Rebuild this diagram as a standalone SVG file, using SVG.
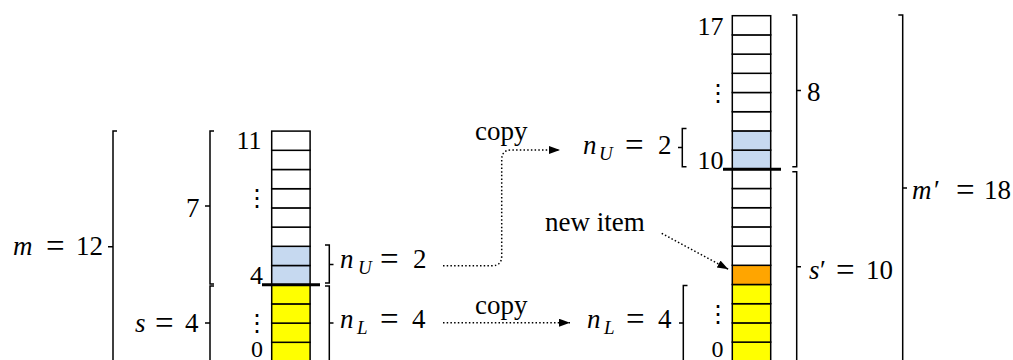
<svg xmlns="http://www.w3.org/2000/svg" width="1013" height="360" viewBox="0 0 1013 360">
<defs>
<style>
.cell{stroke:#000;stroke-width:1.5}
.w{fill:#fff}.b{fill:#c6d9f0}.y{fill:#ffff00}.o{fill:#ffa500}
.br{fill:none;stroke:#000;stroke-width:1.5}
.thick{stroke:#000;stroke-width:3}
.lab{font-family:'Liberation Serif','Times New Roman',Times,'DejaVu Serif',serif;font-size:27px;fill:#000}
.idx{font-family:'Liberation Serif','Times New Roman',Times,'DejaVu Serif',serif;font-size:26px;fill:#000;text-anchor:end}
.z{font-size:24px}
.it{font-style:italic}
.sub{font-style:italic;font-size:19px}
.eq{font-size:33px}
.dots{font-family:'DejaVu Serif',serif;font-size:24px;fill:#000;text-anchor:middle}
.con{fill:none;stroke:#000;stroke-width:1.5;stroke-dasharray:1.5 2.2}
</style>
<marker id="arr" markerUnits="userSpaceOnUse" markerWidth="12" markerHeight="10" refX="11" refY="4" orient="auto">
<path d="M0,0 L11,4 L0,8 Z" fill="#000"/>
</marker>
</defs>
<rect width="1013" height="360" fill="#fff"/>

<g id="left-array">
<rect class="cell y" x="271.7" y="342.3" width="38.4" height="19.2"/>
<rect class="cell y" x="271.7" y="323.1" width="38.4" height="19.2"/>
<rect class="cell y" x="271.7" y="303.9" width="38.4" height="19.2"/>
<rect class="cell y" x="271.7" y="284.7" width="38.4" height="19.2"/>
<rect class="cell b" x="271.7" y="265.5" width="38.4" height="19.2"/>
<rect class="cell b" x="271.7" y="246.3" width="38.4" height="19.2"/>
<rect class="cell w" x="271.7" y="227.1" width="38.4" height="19.2"/>
<rect class="cell w" x="271.7" y="207.9" width="38.4" height="19.2"/>
<rect class="cell w" x="271.7" y="188.7" width="38.4" height="19.2"/>
<rect class="cell w" x="271.7" y="169.5" width="38.4" height="19.2"/>
<rect class="cell w" x="271.7" y="150.3" width="38.4" height="19.2"/>
<rect class="cell w" x="271.7" y="131.1" width="38.4" height="19.2"/>
<line class="thick" x1="262" y1="284.7" x2="320" y2="284.7"/>
<text class="idx" x="261.5" y="149">11</text>
<text class="idx" x="263" y="284">4</text>
<text class="idx z" x="263" y="356.5">0</text>
<text class="dots" x="256.7" y="206">⋮</text>
<text class="dots" x="256.7" y="331">⋮</text>
</g>

<g id="right-array">
<rect class="cell y" x="732.3" y="342.1" width="38.4" height="19.2"/>
<rect class="cell y" x="732.3" y="322.9" width="38.4" height="19.2"/>
<rect class="cell y" x="732.3" y="303.7" width="38.4" height="19.2"/>
<rect class="cell y" x="732.3" y="284.5" width="38.4" height="19.2"/>
<rect class="cell o" x="732.3" y="265.3" width="38.4" height="19.2"/>
<rect class="cell w" x="732.3" y="246.1" width="38.4" height="19.2"/>
<rect class="cell w" x="732.3" y="226.9" width="38.4" height="19.2"/>
<rect class="cell w" x="732.3" y="207.7" width="38.4" height="19.2"/>
<rect class="cell w" x="732.3" y="188.5" width="38.4" height="19.2"/>
<rect class="cell w" x="732.3" y="169.3" width="38.4" height="19.2"/>
<rect class="cell b" x="732.3" y="150.1" width="38.4" height="19.2"/>
<rect class="cell b" x="732.3" y="130.9" width="38.4" height="19.2"/>
<rect class="cell w" x="732.3" y="111.7" width="38.4" height="19.2"/>
<rect class="cell w" x="732.3" y="92.5" width="38.4" height="19.2"/>
<rect class="cell w" x="732.3" y="73.3" width="38.4" height="19.2"/>
<rect class="cell w" x="732.3" y="54.1" width="38.4" height="19.2"/>
<rect class="cell w" x="732.3" y="34.9" width="38.4" height="19.2"/>
<rect class="cell w" x="732.3" y="15.7" width="38.4" height="19.2"/>
<line class="thick" x1="723" y1="169.3" x2="781" y2="169.3"/>
<text class="idx" x="723.5" y="35">17</text>
<text class="idx" x="723.5" y="169">10</text>
<text class="idx z" x="723.5" y="356.5">0</text>
<text class="dots" x="718.3" y="101">⋮</text>
<text class="dots" x="718.3" y="322">⋮</text>
</g>

<g id="bracket-m">
<path class="br" d="M117,131 H113 V365 M113,246.7 H108"/>
<text class="lab"><tspan class="it" x="13" y="255">m</tspan><tspan class="eq" x="46" y="257">=</tspan><tspan x="76" y="255">12</tspan></text>
</g>
<g id="bracket-7">
<path class="br" d="M214,131 H210 V284 H214 M210,206 H205"/>
<text class="lab" x="186" y="217">7</text>
</g>
<g id="bracket-s">
<path class="br" d="M214,286 H210 V365 M210,323 H205"/>
<text class="lab"><tspan class="it" x="135" y="332">s</tspan><tspan class="eq" x="155" y="334">=</tspan><tspan x="185" y="332">4</tspan></text>
</g>
<g id="bracket-nU-left">
<path class="br" d="M325,245 H329.3 V283 H325 M329.3,264.5 H333.5"/>
<text class="lab"><tspan class="it" x="340" y="268">n</tspan><tspan class="sub" x="358" y="274">U</tspan><tspan class="eq" x="380" y="270">=</tspan><tspan x="413" y="268">2</tspan></text>
</g>
<g id="bracket-nL-left">
<path class="br" d="M325,286 H329.3 V365 M329.3,323 H333.5"/>
<text class="lab"><tspan class="it" x="340" y="328">n</tspan><tspan class="sub" x="357" y="334">L</tspan><tspan class="eq" x="380" y="330">=</tspan><tspan x="412" y="328">4</tspan></text>
</g>
<g id="bracket-nU-right">
<path class="br" d="M686.5,128.5 H682.3 V166.7 H686.5 M682.3,147.5 H678"/>
<text class="lab"><tspan class="it" x="583" y="154">n</tspan><tspan class="sub" x="599" y="160">U</tspan><tspan class="eq" x="625" y="156">=</tspan><tspan x="658" y="154">2</tspan></text>
</g>
<g id="bracket-nL-right">
<path class="br" d="M687.5,285.5 H683.3 V365 M683.3,323 H679"/>
<text class="lab"><tspan class="it" x="587" y="328">n</tspan><tspan class="sub" x="604" y="334">L</tspan><tspan class="eq" x="626" y="330">=</tspan><tspan x="658" y="328">4</tspan></text>
</g>
<g id="bracket-8">
<path class="br" d="M792.3,15 H796.7 V166.7 H792.3 M796.7,90.5 H801"/>
<text class="lab" x="807" y="101">8</text>
</g>
<g id="bracket-s-prime">
<path class="br" d="M792.3,171.7 H796.7 V365 M796.7,266.7 H801"/>
<text class="lab"><tspan class="it" x="809" y="279">s</tspan><tspan x="820" y="279">′</tspan><tspan class="eq" x="836" y="281">=</tspan><tspan x="866" y="279">10</tspan></text>
</g>
<g id="bracket-m-prime">
<path class="br" d="M898.3,15 H902.7 V365 M902.7,188 H907"/>
<text class="lab"><tspan class="it" x="912" y="199">m</tspan><tspan x="934" y="199">′</tspan><tspan class="eq" x="956" y="201">=</tspan><tspan x="984" y="199">18</tspan></text>
</g>

<g id="label-copy-upper"><text class="lab" x="475" y="140">copy</text></g>
<g id="label-copy-lower"><text class="lab" x="475" y="314">copy</text></g>
<g id="label-new-item"><text class="lab" x="545" y="231">new item</text></g>

<g id="connectors">
<path class="con" d="M443,265.7 H492 Q501.7,265.7 501.7,256 V160 Q501.7,150 511,150 H560" marker-end="url(#arr)"/>
<path class="con" d="M443,322.7 H570" marker-end="url(#arr)"/>
<path class="con" d="M661.7,233.3 L728.3,269.3" marker-end="url(#arr)"/>
</g>
</svg>
